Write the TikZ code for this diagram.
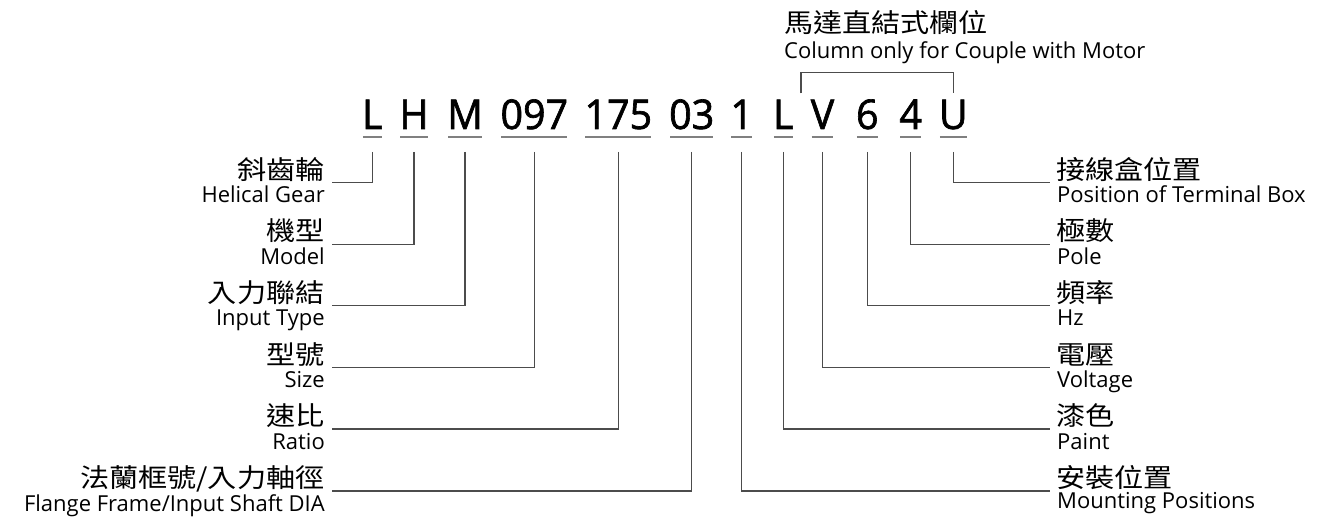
\documentclass[tikz,border=0pt]{standalone}
\usepackage{fontspec}
\setmainfont{Open Sans}
\newfontfamily\cjk{Noto Sans CJK TC}[FakeStretch=1.12]
\newfontfamily\codefont{Open Sans}[FakeBold=1.6,FakeStretch=0.96]
\begin{document}
\begin{tikzpicture}[x=1pt,y=-1pt,
  code/.style={font=\codefont\fontsize{41}{41}\selectfont, inner sep=0pt, text depth=0pt, anchor=base},
  cjkl/.style={font=\cjk\fontsize{26}{26}\selectfont, inner sep=0pt},
  enl/.style={font=\fontsize{22}{22}\selectfont, inner sep=0pt},
  conn/.style={draw=black!70, line width=1.1pt},
  uline/.style={draw=black!50, line width=1.5pt}]
\useasboundingbox (0,0) rectangle (1319,518);
% title
\node[cjkl, anchor=base west] (tj) at (784,33) {馬達直結式欄位};
\node[enl, anchor=base west] (te) at (784,58.3) {Column only for Couple with Motor};
% codes
\node[code] (c1) at (372.3,129) {L};
\node[code] (c2) at (414,129) {H};
\node[code] (c3) at (465,129) {M};
\node[code] (c4) at (534.3,129) {097};
\node[code] (c5) at (618.3,129) {175};
\node[code] (c6) at (691.7,129) {03};
\node[code] (c7) at (741.7,129) {1};
\node[code] (c8) at (783.3,129) {L};
\node[code] (c9) at (822.5,129) {V};
\node[code] (c10) at (867.3,129) {6};
\node[code] (c11) at (910.7,129) {4};
\node[code] (c12) at (953.3,129) {U};
\foreach \n in {c1,c2,c3,c4,c5,c6,c7,c8,c9,c10,c11,c12}
  \draw[uline] ([yshift=-8pt,xshift=1pt]\n.south west) -- ([yshift=-8pt,xshift=-1pt]\n.south east);
% bracket
\coordinate (bl) at (801,93.3);
\draw[conn] (bl) -- ++(0,-20.6) -| ([yshift=6.7pt]c12.north);
% left labels
\node[cjkl, anchor=base east] (j1) at (324.6,179.4) {斜齒輪};
\node[enl, anchor=base east] (e1) at (325,202.7) {Helical Gear};
\node[cjkl, anchor=base east] (j2) at (324.6,241) {機型};
\node[enl, anchor=base east] (e2) at (325,264.3) {Model};
\node[cjkl, anchor=base east] (j3) at (324.6,302.4) {入力聯結};
\node[enl, anchor=base east] (e3) at (325,325.7) {Input Type};
\node[cjkl, anchor=base east] (j4) at (324.6,364) {型號};
\node[enl, anchor=base east] (e4) at (325,387.3) {Size};
\node[cjkl, anchor=base east] (j5) at (324.6,425.7) {速比};
\node[enl, anchor=base east] (e5) at (325,449) {Ratio};
\node[cjkl, anchor=base east] (j6) at (324.6,487.7) {法蘭框號/入力軸徑};
\node[enl, anchor=base east] (e6) at (325,511) {Flange Frame/Input Shaft DIA};
% right labels
\node[cjkl, anchor=base west] (k1) at (1056,179.4) {接線盒位置};
\node[enl, anchor=base west] (f1) at (1057,202.7) {Position of Terminal Box};
\node[cjkl, anchor=base west] (k2) at (1056,241) {極數};
\node[enl, anchor=base west] (f2) at (1057,264.3) {Pole};
\node[cjkl, anchor=base west] (k3) at (1056,302.4) {頻率};
\node[enl, anchor=base west] (f3) at (1057,325.7) {Hz};
\node[cjkl, anchor=base west] (k4) at (1056,364) {電壓};
\node[enl, anchor=base west] (f4) at (1057,387.3) {Voltage};
\node[cjkl, anchor=base west] (k5) at (1056,425.7) {漆色};
\node[enl, anchor=base west] (f5) at (1057,449) {Paint};
\node[cjkl, anchor=base west] (k6) at (1056,487.7) {安裝位置};
\node[enl, anchor=base west] (f6) at (1057,508.3) {Mounting Positions};
% connectors left
\draw[conn] ([yshift=-22.7pt]c1.south) |- ([xshift=7pt,yshift=-3.3pt]j1.base east);
\draw[conn] ([yshift=-22.7pt]c2.south) |- ([xshift=7pt,yshift=-3.3pt]j2.base east);
\draw[conn] ([yshift=-22.7pt]c3.south) |- ([xshift=7pt,yshift=-3.3pt]j3.base east);
\draw[conn] ([yshift=-22.7pt]c4.south) |- ([xshift=7pt,yshift=-3.3pt]j4.base east);
\draw[conn] ([yshift=-22.7pt]c5.south) |- ([xshift=7pt,yshift=-3.3pt]j5.base east);
\draw[conn] ([yshift=-22.7pt]c6.south) |- ([xshift=7pt,yshift=-3.3pt]j6.base east);
% connectors right
\draw[conn] ([yshift=-22.7pt]c12.south) |- ([xshift=-6pt,yshift=-3.3pt]k1.base west);
\draw[conn] ([yshift=-22.7pt]c11.south) |- ([xshift=-6pt,yshift=-3.3pt]k2.base west);
\draw[conn] ([yshift=-22.7pt]c10.south) |- ([xshift=-6pt,yshift=-3.3pt]k3.base west);
\draw[conn] ([yshift=-22.7pt]c9.south) |- ([xshift=-6pt,yshift=-3.3pt]k4.base west);
\draw[conn] ([yshift=-22.7pt]c8.south) |- ([xshift=-6pt,yshift=-3.3pt]k5.base west);
\draw[conn] ([yshift=-22.7pt]c7.south) |- ([xshift=-6pt,yshift=-3.3pt]k6.base west);
\end{tikzpicture}
\end{document}
